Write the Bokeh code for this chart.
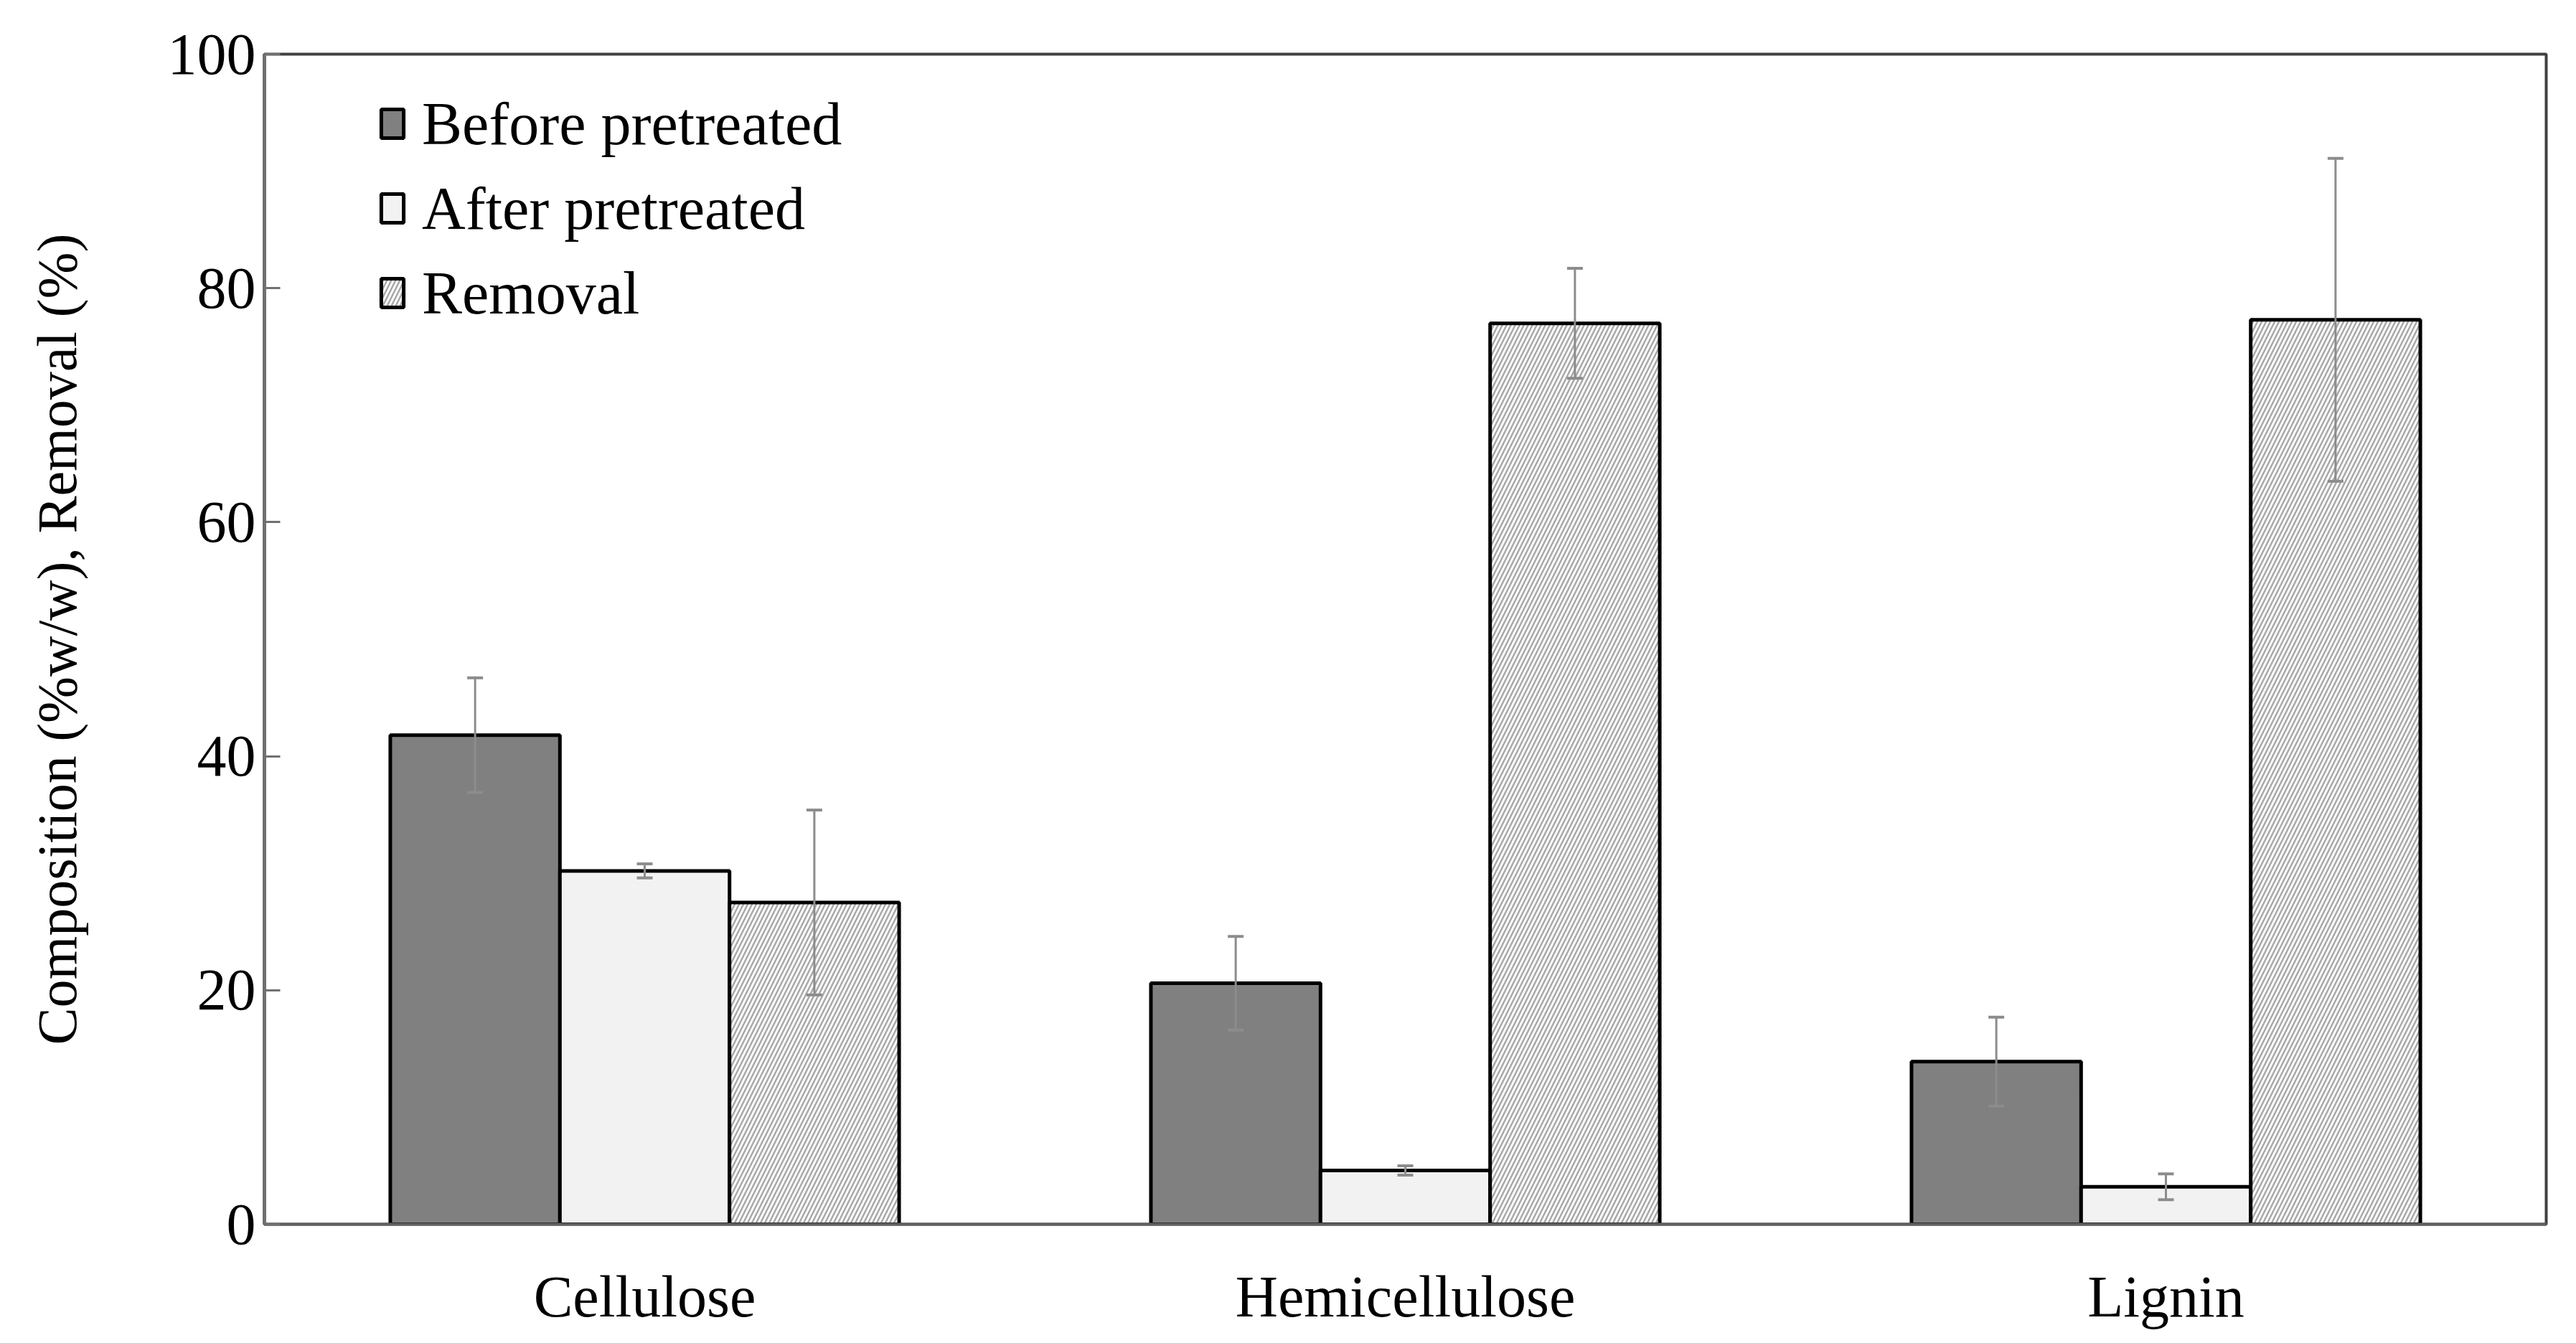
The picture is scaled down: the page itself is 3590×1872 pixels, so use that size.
from bokeh.plotting import figure
from bokeh.models import (ColumnDataSource, FactorRange, Range1d, Whisker, TeeHead,
                          Legend, LegendItem, FixedTicker)
from bokeh.transform import dodge
from bokeh.embed import file_html
from bokeh.resources import INLINE

components = ["Cellulose", "Hemicellulose", "Lignin"]
before = [41.8, 20.6, 13.9]
before_err = [4.9, 4.0, 3.8]
after = [30.2, 4.6, 3.2]
after_err = [0.6, 0.4, 1.1]
removal = [27.5, 77.0, 77.3]
removal_err = [7.9, 4.7, 13.8]
y_ticks = [0, 20, 40, 60, 80, 100]

FONT = "Liberation Serif"
BW = 0.223

src = ColumnDataSource(dict(
    cat=components,
    before=before, b_lo=[v - e for v, e in zip(before, before_err)], b_hi=[v + e for v, e in zip(before, before_err)],
    after=after, a_lo=[v - e for v, e in zip(after, after_err)], a_hi=[v + e for v, e in zip(after, after_err)],
    removal=removal, r_lo=[v - e for v, e in zip(removal, removal_err)], r_hi=[v + e for v, e in zip(removal, removal_err)],
))

p = figure(x_range=FactorRange(*components, range_padding=0), y_range=Range1d(0, 100),
           width=3574, height=1856, output_backend="svg", toolbar_location=None,
           min_border_left=368, min_border_right=26, min_border_top=75, min_border_bottom=150)

p.outline_line_color = "#404040"
p.outline_line_width = 4
p.xgrid.visible = False
p.ygrid.visible = False
p.background_fill_color = "white"

r_b = p.vbar(x=dodge("cat", -BW, range=p.x_range), top="before", width=BW, source=src,
             fill_color="#808080", line_color="black", line_width=5)
r_a = p.vbar(x=dodge("cat", 0, range=p.x_range), top="after", width=BW, source=src,
             fill_color="#f2f2f2", line_color="black", line_width=5)
r_r = p.vbar(x=dodge("cat", BW, range=p.x_range), top="removal", width=BW, source=src,
             fill_color="white", hatch_pattern="/", hatch_color="#a8a8a8", hatch_scale=12,
             hatch_weight=2.5, line_color="black", line_width=5)

for off, lo, hi in [(-BW, "b_lo", "b_hi"), (0, "a_lo", "a_hi"), (BW, "r_lo", "r_hi")]:
    w = Whisker(base=dodge("cat", off, range=p.x_range), lower=lo, upper=hi, source=src,
                line_color="#8c8c8c", line_width=3, level="overlay",
                upper_head=TeeHead(size=22, line_color="#8c8c8c", line_width=4),
                lower_head=TeeHead(size=22, line_color="#8c8c8c", line_width=4))
    p.add_layout(w)

# axes
p.yaxis.ticker = FixedTicker(ticks=y_ticks)
p.yaxis.minor_tick_line_color = None
p.yaxis.major_tick_in = 22
p.yaxis.major_tick_out = 0
p.yaxis.major_tick_line_color = "#707070"
p.yaxis.major_tick_line_width = 3
p.yaxis.axis_line_color = "#707070"
p.yaxis.axis_line_width = 5
p.yaxis.major_label_standoff = 12
p.yaxis.major_label_text_font = FONT
p.yaxis.major_label_text_font_size = "82px"
p.yaxis.major_label_text_color = "black"
p.yaxis.axis_label = "Composition (%w/w), Removal (%)"
p.yaxis.axis_label_text_font = FONT
p.yaxis.axis_label_text_font_size = "78px"
p.yaxis.axis_label_text_font_style = "normal"
p.yaxis.axis_label_text_color = "black"
p.yaxis.axis_label_standoff = 108

p.xaxis.major_tick_line_color = None
p.xaxis.minor_tick_line_color = None
p.xaxis.major_tick_out = 0
p.xaxis.axis_line_color = "#606060"
p.xaxis.axis_line_width = 4
p.xaxis.major_label_standoff = 55
p.xaxis.major_label_text_font = FONT
p.xaxis.major_label_text_font_size = "82px"
p.xaxis.major_label_text_color = "black"

legend = Legend(items=[
    LegendItem(label="Before pretreated", renderers=[r_b]),
    LegendItem(label="After pretreated", renderers=[r_a]),
    LegendItem(label="Removal", renderers=[r_r]),
], location=(159, 1239), orientation="vertical",
    glyph_width=39, glyph_height=50, label_height=118, spacing=0, padding=0, margin=0,
    label_standoff=22, label_text_font=FONT, label_text_font_size="84px",
    label_text_color="black", border_line_alpha=0, background_fill_alpha=0)
p.add_layout(legend)

open("out.html", "w").write(file_html(p, INLINE))
